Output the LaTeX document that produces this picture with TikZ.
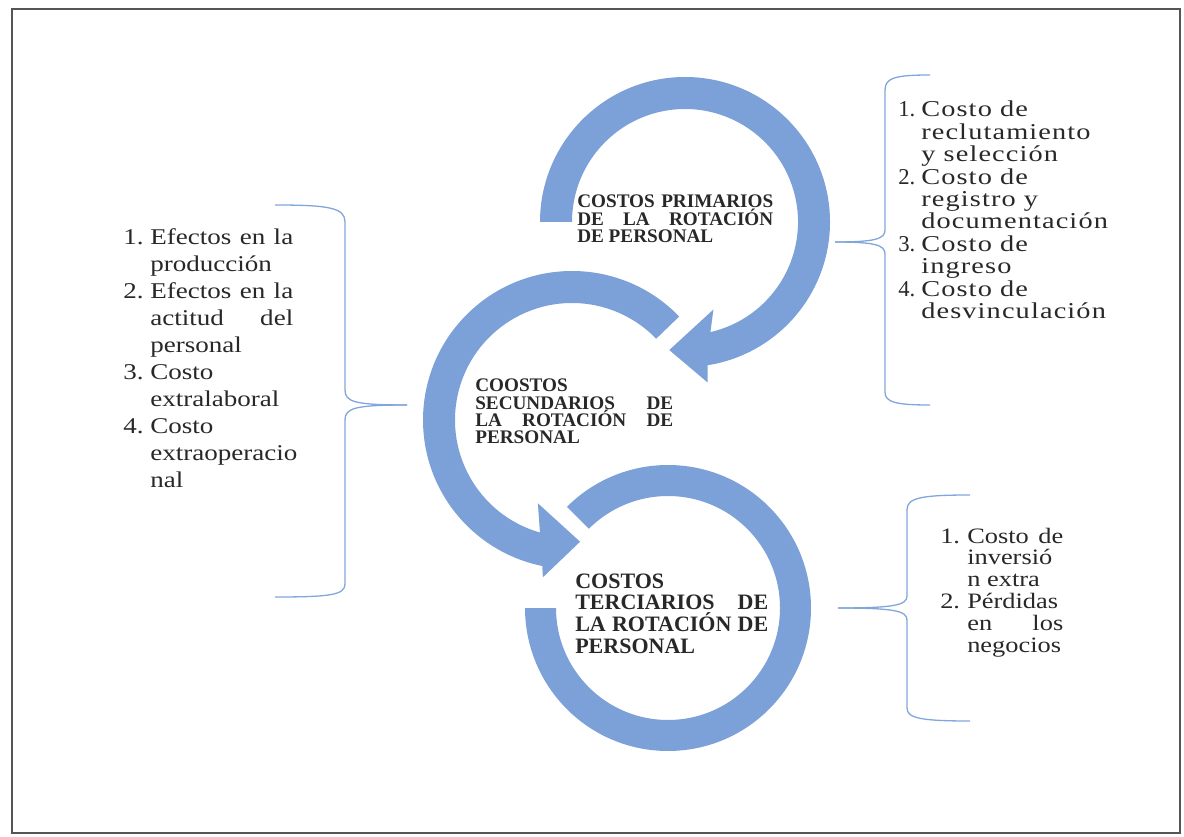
\documentclass[tikz,border=0pt]{standalone}
\usepackage{fontspec}
\setmainfont{Liberation Serif}
\newfontfamily\lstf[FakeStretch=1.2]{Liberation Serif}
\newfontfamily\lstfr[FakeStretch=1.25,LetterSpace=5]{Liberation Serif}
\usetikzlibrary{calc}
\definecolor{ringblue}{RGB}{124,160,216}
\definecolor{bracecol}{RGB}{130,165,220}
\definecolor{framecol}{RGB}{85,85,85}
\definecolor{txt}{RGB}{40,40,40}
\newlength\px \setlength\px{0.75pt}
\newcommand\js[2]{\makebox[#1\px][s]{#2}}
\newcommand\nb[2]{\makebox[#1\px][l]{#2}}
\newcommand\nr[1]{\makebox[23\px][l]{\rmfamily #1}}
\tikzset{
 ring/.style={fill=ringblue},
 bracel/.style={draw=bracecol, line width=1.3\px},
 title/.style={anchor=base west, inner sep=0pt, text=txt},
 lst/.style={anchor=base west, inner sep=0pt, text=txt},
}
\begin{document}
\begin{tikzpicture}[x=0.75pt,y=0.75pt]
\useasboundingbox (0,0) rectangle (1184,-837);
\draw[framecol, line width=2\px] (12,-9) rectangle (1180,-833);

\coordinate (c1) at (685,-222);
\coordinate (c2) at (572,-420);
\coordinate (c3) at (668,-608);

% bottom ring
\fill[ring] ($(c3)+(135:143)$) arc[start angle=135,end angle=-180,radius=143]
  -- ($(c3)+(180:112)$) arc[start angle=-180,end angle=135,radius=112] -- cycle;
% middle ring
\fill[ring] ($(c2)+(44:149)$) arc[start angle=44,end angle=258.5,radius=149]
  -- ($(c2)+(259.5:160)$) -- ($(c2)+(273.8:122)$) -- ($(c2)+(247.7:90)$)
  -- ($(c2)+(254.1:117)$) arc[start angle=254.1,end angle=44,radius=117] -- cycle;
% top ring
\fill[ring] ($(c1)+(180:145)$) arc[start angle=180,end angle=-81,radius=145]
  -- ($(c1)+(-82:162)$) -- ($(c1)+(-97:129)$) -- ($(c1)+(-72:92)$)
  -- ($(c1)+(-77:113)$) arc[start angle=-77,end angle=180,radius=113] -- cycle;

% titles
\node[title, font=\bfseries\fontsize{14.4}{13.1}\selectfont] (t1) at (577,-208)
 {\parbox[t]{196\px}{\lineskiplimit=-100pt
 \js{196}{COSTOS PRIMARIOS}\\ \js{196}{DE LA ROTACIÓN}\\ DE PERSONAL}};
\node[title, font=\bfseries\fontsize{14.4}{13}\selectfont] (t2) at (475,-392)
 {\parbox[t]{198\px}{\lineskiplimit=-100pt
 COOSTOS\\ \js{198}{SECUNDARIOS DE}\\ \js{198}{LA ROTACIÓN DE}\\ PERSONAL}};
\node[title, font=\bfseries\fontsize{16.5}{16.3}\selectfont] (t3) at (575,-588)
 {\parbox[t]{193\px}{\lineskiplimit=-100pt
 COSTOS\\ \js{193}{TERCIARIOS DE}\\ \js{193}{LA ROTACIÓN DE}\\ PERSONAL}};

% left list
\node[lst, font=\lstf\fontsize{16.9}{20.25}\selectfont] (la) at (123,-245)
 {\parbox[t]{175\px}{\lineskiplimit=-100pt
 \nb{27}{1.}\js{143}{Efectos en la}\\
 \hspace*{27\px}producción\\
 \nb{27}{2.}\js{143}{Efectos en la}\\
 \hspace*{27\px}\js{143}{actitud del}\\
 \hspace*{27\px}personal\\
 \nb{27}{3.}Costo\\
 \hspace*{27\px}extralaboral\\
 \nb{27}{4.}Costo\\
 \hspace*{27\px}extraoperacio\\
 \hspace*{27\px}nal}};

% right top list
\node[lst, font=\lstfr\fontsize{17}{16.8}\selectfont] (lb) at (898,-117)
 {\parbox[t]{240\px}{\lineskiplimit=-100pt
 \nr{1.}Costo de\\
 \hspace*{23\px}reclutamiento\\
 \hspace*{23\px}y selección\\
 \nr{2.}Costo de\\
 \hspace*{23\px}registro y\\
 \hspace*{23\px}documentación\\
 \nr{3.}Costo de\\
 \hspace*{23\px}ingreso\\
 \nr{4.}Costo de\\
 \hspace*{23\px}desvinculación}};

% bottom right list
\node[lst, font=\lstf\fontsize{16.5}{16.35}\selectfont] (lc) at (940,-543)
 {\parbox[t]{140\px}{\lineskiplimit=-100pt
 \nb{27}{1.}\js{96}{Costo de}\\
 \hspace*{27\px}inversió\\
 \hspace*{27\px}n extra\\
 \nb{27}{2.}Pérdidas\\
 \hspace*{27\px}\js{96}{en los}\\
 \hspace*{27\px}negocios}};

% braces
\draw[bracel] (275,-205) .. controls (330,-205) and (345,-208) .. (345,-222)
  -- (345,-390) .. controls (345,-402) and (355,-405) .. (407,-405);
\draw[bracel] (407,-405) .. controls (355,-405) and (345,-408) .. (345,-420)
  -- (345,-584) .. controls (345,-595) and (330,-597) .. (275,-597);

\draw[bracel] (930,-75) .. controls (895,-75) and (885,-78) .. (885,-90)
  -- (885,-230) .. controls (885,-239) and (875,-242) .. (835,-242);
\draw[bracel] (835,-242) .. controls (875,-242) and (885,-245) .. (885,-254)
  -- (885,-392) .. controls (885,-402) and (895,-405) .. (930,-405);

\draw[bracel] (970,-495) .. controls (920,-495) and (907,-498) .. (907,-510)
  -- (907,-596) .. controls (907,-605) and (895,-608) .. (838,-608);
\draw[bracel] (838,-608) .. controls (895,-608) and (907,-611) .. (907,-620)
  -- (907,-708) .. controls (907,-718) and (920,-721) .. (970,-721);
\end{tikzpicture}
\end{document}
